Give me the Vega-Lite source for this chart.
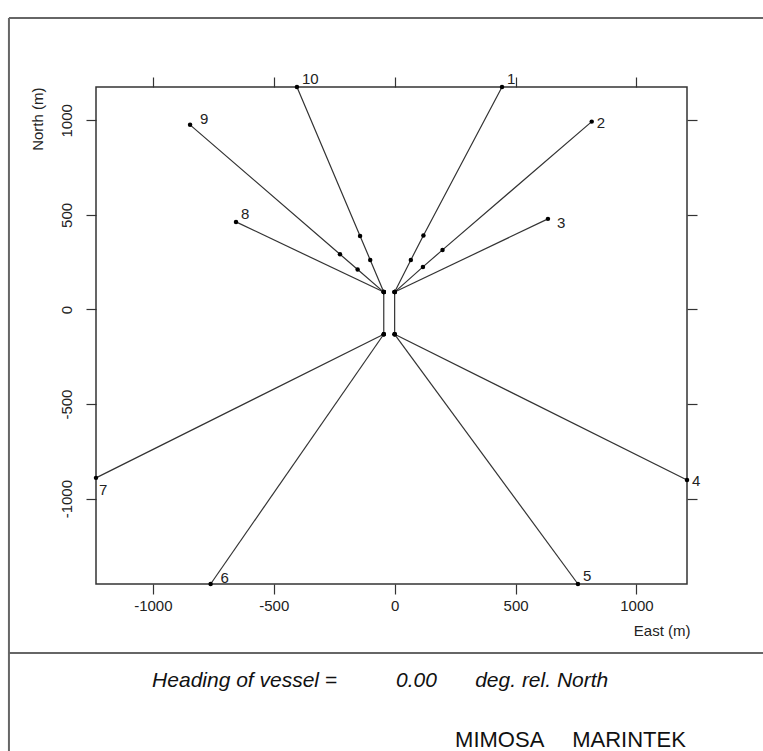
{
  "$schema": "https://vega.github.io/schema/vega-lite/v6.json",
  "width": 591,
  "height": 497,
  "autosize": {"type": "none"},
  "padding": {"left": 96, "top": 87, "right": 76, "bottom": 167},
  "background": "white",
  "config": {
    "view": {"stroke": "#333333", "strokeWidth": 1.5},
    "axis": {
      "grid": false,
      "domain": false,
      "tickColor": "#333333",
      "tickWidth": 1.2,
      "tickSize": 10,
      "labelFont": "Liberation Sans",
      "labelFontSize": 15,
      "labelColor": "#222222",
      "titleFont": "Liberation Sans",
      "titleFontSize": 15,
      "titleFontWeight": "normal",
      "titleColor": "#222222"
    },
    "text": {"font": "Liberation Sans", "color": "#222222"}
  },
  "datasets": {
    "moor": [
      {"line": "1", "seq": 0, "x": 0, "y": 92},
      {"line": "1", "seq": 1, "x": 67, "y": 262},
      {"line": "1", "seq": 2, "x": 119, "y": 391},
      {"line": "1", "seq": 3, "x": 444, "y": 1176, "label": "1"},
      {"line": "2", "seq": 0, "x": 0, "y": 92},
      {"line": "2", "seq": 1, "x": 117, "y": 225},
      {"line": "2", "seq": 2, "x": 198, "y": 315},
      {"line": "2", "seq": 3, "x": 815, "y": 993, "label": "2"},
      {"line": "3", "seq": 0, "x": 0, "y": 92},
      {"line": "3", "seq": 1, "x": 634, "y": 479, "label": "3"},
      {"line": "4", "seq": 0, "x": 0, "y": -131},
      {"line": "4", "seq": 1, "x": 1209, "y": -901, "label": "4"},
      {"line": "5", "seq": 0, "x": 0, "y": -131},
      {"line": "5", "seq": 1, "x": 758, "y": -1451, "label": "5"},
      {"line": "6", "seq": 0, "x": -45, "y": -131},
      {"line": "6", "seq": 1, "x": -761, "y": -1451, "label": "6"},
      {"line": "7", "seq": 0, "x": -45, "y": -131},
      {"line": "7", "seq": 1, "x": -1235, "y": -890, "label": "7"},
      {"line": "8", "seq": 0, "x": -45, "y": 92},
      {"line": "8", "seq": 1, "x": -656, "y": 463, "label": "8"},
      {"line": "9", "seq": 0, "x": -45, "y": 92},
      {"line": "9", "seq": 1, "x": -153, "y": 211},
      {"line": "9", "seq": 2, "x": -226, "y": 292},
      {"line": "9", "seq": 3, "x": -846, "y": 976, "label": "9"},
      {"line": "10", "seq": 0, "x": -45, "y": 92},
      {"line": "10", "seq": 1, "x": -101, "y": 262},
      {"line": "10", "seq": 2, "x": -143, "y": 389},
      {"line": "10", "seq": 3, "x": -404, "y": 1176, "label": "10"},
      {"line": "hullL", "seq": 0, "x": -45, "y": 92},
      {"line": "hullL", "seq": 1, "x": -45, "y": -131},
      {"line": "hullR", "seq": 0, "x": 0, "y": 92},
      {"line": "hullR", "seq": 1, "x": 0, "y": -131}
    ]
  },
  "data": {"name": "moor"},
  "layer": [
    {
      "mark": {"type": "line", "stroke": "#333333", "strokeWidth": 1.2},
      "encoding": {
        "x": {
          "field": "x", "type": "quantitative",
          "scale": {"domain": [-1235, 1209], "nice": false, "zero": false},
          "axis": {"orient": "bottom", "values": [-1000, -500, 0, 500, 1000], "labelExpr": "'' + datum.value", "title": "East (m)", "titleX": 594, "titleY": 46, "titleAlign": "right", "titleBaseline": "middle", "labelPadding": 4}
        },
        "y": {
          "field": "y", "type": "quantitative",
          "scale": {"domain": [-1451, 1176], "nice": false, "zero": false},
          "axis": {"orient": "left", "values": [-1000, -500, 0, 500, 1000], "labelExpr": "'' + datum.value", "title": "North (m)", "labelAngle": -90, "labelAlign": "center", "labelBaseline": "bottom", "labelPadding": 12, "titleAngle": -90, "titleX": -59, "titleY": 0, "titleAlign": "right", "titleBaseline": "middle"}
        },
        "detail": {"field": "line"},
        "order": {"field": "seq", "type": "quantitative"}
      }
    },
    {
      "mark": {"type": "circle", "color": "black", "opacity": 1, "size": 20},
      "encoding": {
        "x": {"field": "x", "type": "quantitative", "axis": {"orient": "top", "values": [-1000, -500, 0, 500, 1000], "labels": false, "title": null}},
        "y": {"field": "y", "type": "quantitative", "axis": {"orient": "right", "values": [-1000, -500, 0, 500, 1000], "labels": false, "title": null}}
      }
    },
    {
      "transform": [{"filter": {"field": "label", "oneOf": ["1", "10", "8", "5"]}}],
      "mark": {"type": "text", "align": "left", "baseline": "middle", "dx": 5, "dy": -8, "fontSize": 15},
      "encoding": {
        "x": {"field": "x", "type": "quantitative", "axis": null},
        "y": {"field": "y", "type": "quantitative", "axis": null},
        "text": {"field": "label"}
      }
    },
    {
      "transform": [{"filter": {"field": "label", "oneOf": ["9", "6"]}}],
      "mark": {"type": "text", "align": "left", "baseline": "middle", "dx": 10, "dy": -6, "fontSize": 15},
      "encoding": {
        "x": {"field": "x", "type": "quantitative", "axis": null},
        "y": {"field": "y", "type": "quantitative", "axis": null},
        "text": {"field": "label"}
      }
    },
    {
      "transform": [{"filter": {"field": "label", "oneOf": ["2", "4"]}}],
      "mark": {"type": "text", "align": "left", "baseline": "middle", "dx": 5, "dy": 1, "fontSize": 15},
      "encoding": {
        "x": {"field": "x", "type": "quantitative", "axis": null},
        "y": {"field": "y", "type": "quantitative", "axis": null},
        "text": {"field": "label"}
      }
    },
    {
      "transform": [{"filter": {"field": "label", "oneOf": ["3"]}}],
      "mark": {"type": "text", "align": "left", "baseline": "middle", "dx": 9, "dy": 4, "fontSize": 15},
      "encoding": {
        "x": {"field": "x", "type": "quantitative", "axis": null},
        "y": {"field": "y", "type": "quantitative", "axis": null},
        "text": {"field": "label"}
      }
    },
    {
      "transform": [{"filter": {"field": "label", "oneOf": ["7"]}}],
      "mark": {"type": "text", "align": "left", "baseline": "middle", "dx": 3, "dy": 12, "fontSize": 15},
      "encoding": {
        "x": {"field": "x", "type": "quantitative", "axis": null},
        "y": {"field": "y", "type": "quantitative", "axis": null},
        "text": {"field": "label"}
      }
    },
    {
      "data": {"values": [{"part": "top border"}]},
      "mark": {"type": "rule", "stroke": "#666666", "strokeWidth": 2},
      "encoding": {
        "x": {"datum": -1595, "type": "quantitative", "axis": null},
        "x2": {"datum": 1600},
        "y": {"datum": 1541, "type": "quantitative", "axis": null}
      }
    },
    {
      "data": {"values": [{"part": "left border"}]},
      "mark": {"type": "rule", "stroke": "#666666", "strokeWidth": 2},
      "encoding": {
        "x": {"datum": -1595, "type": "quantitative", "axis": null},
        "y": {"datum": 1541, "type": "quantitative", "axis": null},
        "y2": {"datum": -2500}
      }
    },
    {
      "data": {"values": [{"part": "divider"}]},
      "mark": {"type": "rule", "stroke": "#666666", "strokeWidth": 2},
      "encoding": {
        "x": {"datum": -1595, "type": "quantitative", "axis": null},
        "x2": {"datum": 1600},
        "y": {"datum": -1816, "type": "quantitative", "axis": null}
      }
    },
    {
      "data": {"values": [{"t": "Heading of vessel ="}]},
      "mark": {"type": "text", "align": "left", "baseline": "middle", "fontSize": 21, "fontStyle": "italic", "color": "#111111"},
      "encoding": {
        "x": {"datum": -1003, "type": "quantitative", "axis": null},
        "y": {"datum": -1964, "type": "quantitative", "axis": null},
        "text": {"field": "t"}
      }
    },
    {
      "data": {"values": [{"t": "0.00"}]},
      "mark": {"type": "text", "align": "left", "baseline": "middle", "fontSize": 21, "fontStyle": "italic", "color": "#111111"},
      "encoding": {
        "x": {"datum": 6, "type": "quantitative", "axis": null},
        "y": {"datum": -1964, "type": "quantitative", "axis": null},
        "text": {"field": "t"}
      }
    },
    {
      "data": {"values": [{"t": "deg. rel. North"}]},
      "mark": {"type": "text", "align": "left", "baseline": "middle", "fontSize": 21, "fontStyle": "italic", "color": "#111111"},
      "encoding": {
        "x": {"datum": 333, "type": "quantitative", "axis": null},
        "y": {"datum": -1964, "type": "quantitative", "axis": null},
        "text": {"field": "t"}
      }
    },
    {
      "data": {"values": [{"t": "MIMOSA"}]},
      "mark": {"type": "text", "align": "left", "baseline": "alphabetic", "fontSize": 22, "color": "#111111"},
      "encoding": {
        "x": {"datum": 250, "type": "quantitative", "axis": null},
        "y": {"datum": -2310, "type": "quantitative", "axis": null},
        "text": {"field": "t"}
      }
    },
    {
      "data": {"values": [{"t": "MARINTEK"}]},
      "mark": {"type": "text", "align": "left", "baseline": "alphabetic", "fontSize": 22, "color": "#111111"},
      "encoding": {
        "x": {"datum": 734, "type": "quantitative", "axis": null},
        "y": {"datum": -2310, "type": "quantitative", "axis": null},
        "text": {"field": "t"}
      }
    }
  ],
  "resolve": {"axis": {"x": "independent", "y": "independent"}}
}
